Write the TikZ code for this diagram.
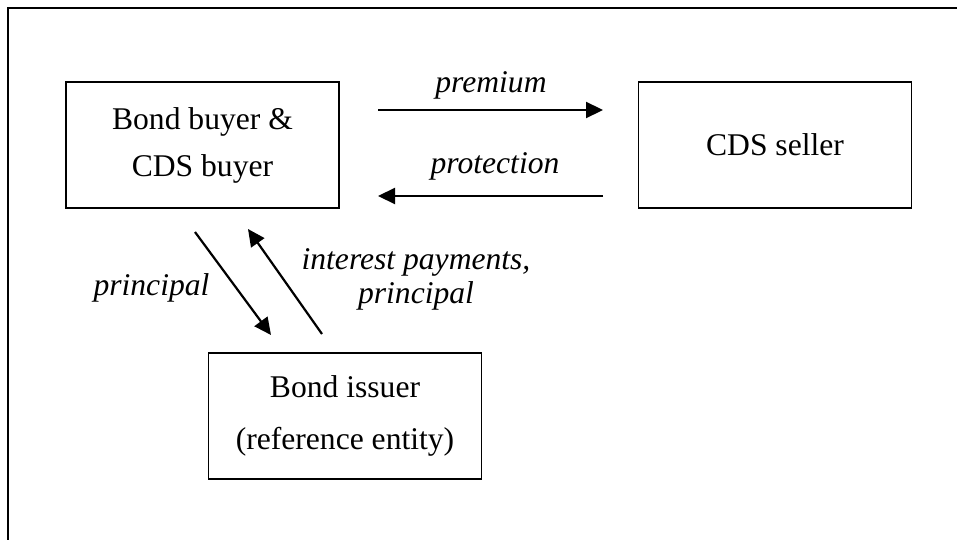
\documentclass[tikz,border=0pt]{standalone}
\usepackage{fontspec}
\setmainfont{Liberation Serif}
\usetikzlibrary{arrows.meta}
\tikzset{
  entity/.style={draw, line width=1.6pt, minimum width=273pt, minimum height=126pt,
    inner sep=0pt, align=center, font=\fontsize{31.6}{47}\selectfont},
  flow/.style={-{Triangle[length=17pt,width=16pt]}, line width=2.2pt},
  flowlabel/.style={inner sep=0pt, align=center, font=\fontsize{31.6}{34}\selectfont\itshape}
}
\begin{document}
\begin{tikzpicture}[x=1pt, y=-1pt]
\useasboundingbox (0,0) rectangle (957,540);
% frame
\draw[line width=1.6pt] (957,8) -- (8,8) -- (8,540);
% parties
\node[entity] (buyer) at (202.5,145) {Bond buyer \&\\CDS buyer};
\node[entity] (seller) at (775,145) {CDS seller};
\node[entity, font=\fontsize{31.6}{52}\selectfont] (issuer) at (345,416) {Bond issuer\\(reference entity)};
% flows between buyer and seller
\coordinate (premA) at (378,110);
\coordinate (premB) at (603,110);
\coordinate (protA) at (603,196);
\coordinate (protB) at (378,196);
\draw[flow] (premA) -- (premB);
\draw[flow] (protA) -- (protB);
\node[flowlabel, anchor=base] (premium) at (491,93) {premium};
\node[flowlabel, anchor=base] (protection) at (495,173) {protection};
% flows between buyer and issuer
\coordinate (prinA) at (195,232);
\coordinate (prinB) at (271,335);
\coordinate (intA) at (322,334);
\coordinate (intB) at (248,229);
\draw[flow] (prinA) -- (prinB);
\draw[flow] (intA) -- (intB);
\node[flowlabel, anchor=base] (principal) at (151.5,295) {principal};
\node[flowlabel, anchor=base] (interest) at (416,303) {interest payments,\\principal};
\end{tikzpicture}
\end{document}
